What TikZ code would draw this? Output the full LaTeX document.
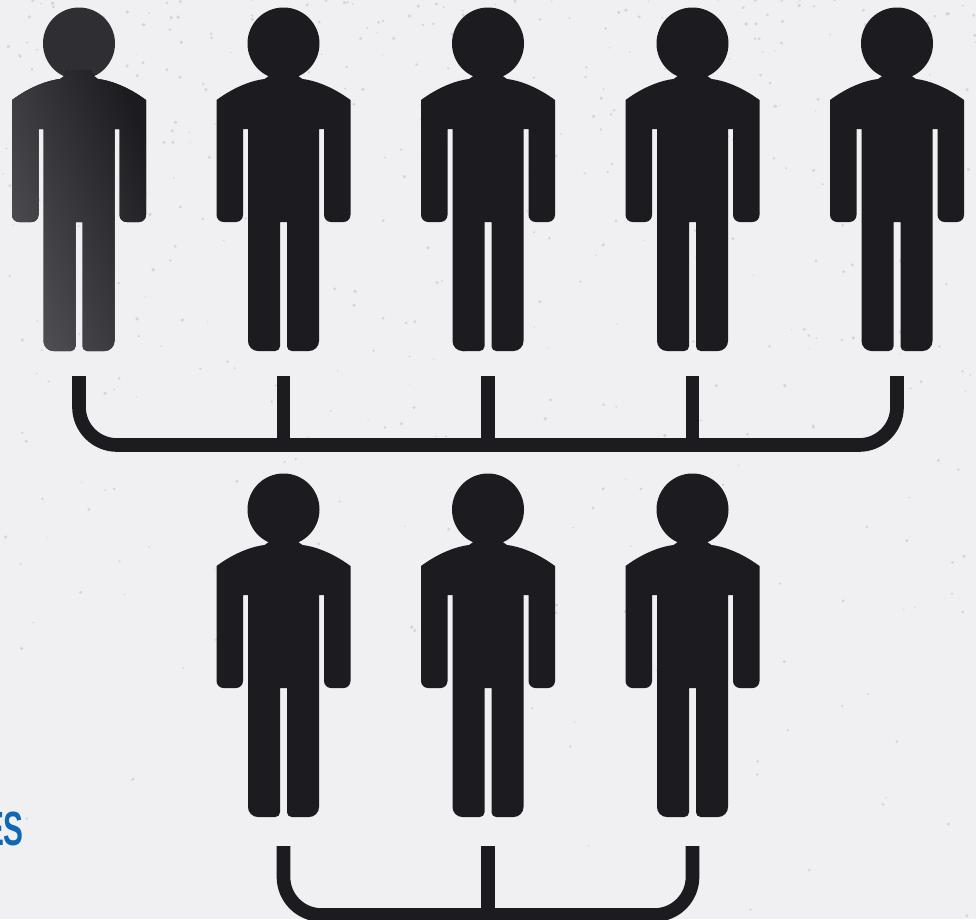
\documentclass[tikz,border=0pt]{standalone}
\usepackage{fontspec}
\setmainfont{Liberation Sans}
\definecolor{paper100}{HTML}{F0F0F3}
\definecolor{paper300}{HTML}{CFCFD3}
\definecolor{ink900}  {HTML}{1B1B20}
\definecolor{ink700}  {HTML}{2E2E33}
\definecolor{ink500}  {HTML}{505055}
\definecolor{blue600} {HTML}{0E68B5}
\tikzset{
  x=0.03cm, y=-0.03cm,
  inkfill/.style ={fill=ink900},
  inkfade/.style ={left color=ink500, right color=ink900, shading angle=110},
  inkhead/.style ={fill=ink700},
  bracket/.style ={draw=ink900, line width=0.41cm, line cap=butt},
  speck/.style   ={fill=paper300, opacity=0.8},
  word/.style    ={font=\bfseries\fontsize{41}{41}\selectfont, text=blue600,
                   inner sep=0pt, xscale=0.62},
  pics/person/.style 2 args={code={
    \fill[#2] (0,43.5) circle[radius=36];
    \fill[#1] (-12,70) -- (12,70) .. controls (14,76) and (16,78) .. (19,79)
      .. controls (35,81) and (52,89) .. (67,100)
      [rounded corners=6pt] -- (67,222) -- (40.5,222) [sharp corners]
      -- (40.5,129) -- (35.5,129)
      [rounded corners=8.5pt] -- (35.5,351) [rounded corners=4pt] -- (3.5,351) [sharp corners]
      -- (3.5,222) -- (-3.5,222)
      [rounded corners=4pt] -- (-3.5,351) [rounded corners=8.5pt] -- (-35.5,351) [sharp corners]
      -- (-35.5,129) -- (-40.5,129)
      [rounded corners=6pt] -- (-40.5,222) -- (-67,222) [sharp corners]
      -- (-67,100) .. controls (-52,89) and (-35,81) .. (-19,79)
      .. controls (-16,78) and (-14,76) .. (-12,70) -- cycle;
    \coordinate (-foot) at (0,376);
  }}
}
\begin{document}
\begin{tikzpicture}
\clip (0,0) rectangle (976,919);
\fill[paper100] (0,0) rectangle (976,919);

% paper grain
\pgfmathsetseed{41}
\foreach \i in {1,...,520} {
  \pgfmathsetmacro{\px}{976*rnd}
  \pgfmathsetmacro{\py}{919*rnd*rnd}
  \pgfmathsetmacro{\pr}{0.6+1.3*rnd}
  \fill[speck] (\px,\py) circle[radius=\pr];
}

% upper row
\pic (top1) at (79,0) {person={inkfade}{inkhead}};
\foreach \n/\x in {2/283.5, 3/488, 4/692.5, 5/897}
  \pic (top\n) at (\x,0) {person={inkfill}{inkfill}};

% lower row
\foreach \n/\x in {1/283.5, 2/488, 3/692.5}
  \pic (low\n) at (\x,466) {person={inkfill}{inkfill}};

\coordinate (topbar) at (0,445);
\coordinate (lowtop) at (0,846);
\coordinate (lowbar) at (0,915);

\draw[bracket, rounded corners=1.14cm] (top1-foot) |- (topbar -| top5-foot) -- (top5-foot);
\foreach \n in {2,3,4}
  \draw[bracket] (top\n-foot) -- (top\n-foot |- topbar);

\draw[bracket, rounded corners=1.14cm] (low1-foot |- lowtop) |- (lowbar -| low3-foot) -- (low3-foot |- lowtop);
\draw[bracket] (low2-foot |- lowtop) -- (low2-foot |- lowbar);

\node[word, anchor=base east] (tail) at (24,845) {ES};
\end{tikzpicture}
\end{document}
